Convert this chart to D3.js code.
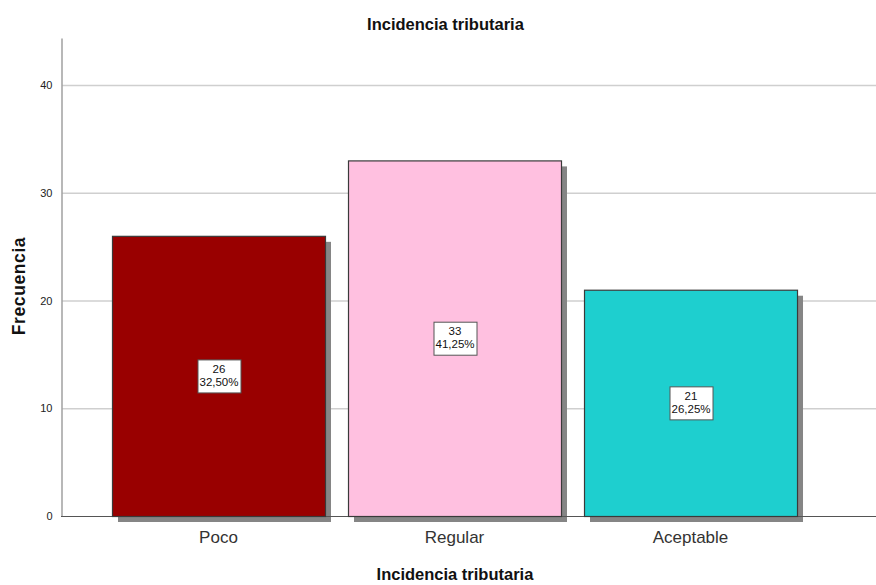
<!DOCTYPE html>
<html>
<head>
<meta charset="utf-8">
<script src="https://cdn.jsdelivr.net/npm/d3@7"></script>
<style>
  html, body { margin: 0; padding: 0; background: #fff; }
  svg { display: block; }
  text { font-family: "Liberation Sans", Arial, sans-serif; }
</style>
</head>
<body>
<svg id="chart" width="876" height="585"></svg>
<script>
// Frequency counts per category
const categories = ["Poco", "Regular", "Aceptable"];
const counts = [26, 33, 21];
const percents = ["32,50%", "41,25%", "26,25%"];
const barColors = ["#990000", "#FFC0E0", "#1ECFCF"];
const yTicks = [0, 10, 20, 30, 40];

const svg = d3.select("#chart");
const W = 876, H = 585;

const y = d3.scaleLinear().domain([0, 44.36]).range([516, 38]);
const x = d3.scaleBand()
  .domain(categories)
  .range([100.5, 808.5])
  .paddingInner(0.0975)
  .paddingOuter(0.0487);

// Gridlines
svg.append("g")
  .selectAll("line")
  .data(yTicks.filter(d => d > 0))
  .join("line")
  .attr("x1", 62).attr("x2", W)
  .attr("y1", d => y(d) + 0.5).attr("y2", d => y(d) + 0.5)
  .attr("stroke", "#cfcfcf").attr("stroke-width", 1.5);

// Y axis
const yAxis = d3.axisLeft(y).tickValues(yTicks).tickSize(0).tickPadding(9);
const gy = svg.append("g").attr("transform", "translate(61.5,0)").call(yAxis);
gy.select(".domain").attr("stroke", "#a0a0a0").attr("stroke-width", 1.5);
gy.selectAll("text").attr("font-size", 11).attr("fill", "#222");

const data = categories.map((c, i) => ({ c, v: counts[i], p: percents[i], col: barColors[i] }));

// Drop shadows
svg.append("g")
  .selectAll("rect")
  .data(data)
  .join("rect")
  .attr("x", d => x(d.c) + 6)
  .attr("y", d => y(d.v) + 6)
  .attr("width", x.bandwidth())
  .attr("height", d => y(0) - y(d.v))
  .attr("fill", "#858585");

// X axis baseline
svg.append("line")
  .attr("x1", 61).attr("x2", W)
  .attr("y1", 516.5).attr("y2", 516.5)
  .attr("stroke", "#555").attr("stroke-width", 1);

// Bars
svg.append("g")
  .selectAll("rect")
  .data(data)
  .join("rect")
  .attr("x", d => x(d.c) + 0.5)
  .attr("y", d => y(d.v) + 0.5)
  .attr("width", x.bandwidth())
  .attr("height", d => y(0) - y(d.v))
  .attr("fill", d => d.col)
  .attr("stroke", "#3a3a3a").attr("stroke-width", 1.2);

// Value labels
const lab = svg.append("g")
  .selectAll("g")
  .data(data)
  .join("g")
  .attr("transform", d => `translate(${x(d.c) + x.bandwidth() / 2 + 0.5},${y(d.v / 2)})`);
lab.append("rect")
  .attr("x", -21).attr("y", -16).attr("width", 43).attr("height", 33)
  .attr("fill", "#fff").attr("stroke", "#555").attr("stroke-width", 1);
lab.append("text")
  .attr("text-anchor", "middle").attr("y", -3)
  .attr("font-size", 11.5).attr("fill", "#111")
  .text(d => d.v);
lab.append("text")
  .attr("text-anchor", "middle").attr("y", 10)
  .attr("font-size", 11.5).attr("fill", "#111")
  .text(d => d.p);

// Category labels
svg.append("g")
  .selectAll("text")
  .data(categories)
  .join("text")
  .attr("x", d => x(d) + x.bandwidth() / 2)
  .attr("y", 543)
  .attr("text-anchor", "middle")
  .attr("font-size", 17).attr("fill", "#333")
  .text(d => d);

// Titles
svg.append("text")
  .attr("x", 445.5).attr("y", 29.5)
  .attr("text-anchor", "middle")
  .attr("font-size", 16.5).attr("font-weight", "bold").attr("fill", "#111")
  .text("Incidencia tributaria");

svg.append("text")
  .attr("x", 455).attr("y", 580)
  .attr("text-anchor", "middle")
  .attr("font-size", 16.5).attr("font-weight", "bold").attr("fill", "#111")
  .text("Incidencia tributaria");

svg.append("text")
  .attr("transform", "translate(25,286) rotate(-90)")
  .attr("text-anchor", "middle")
  .attr("font-size", 17.5).attr("font-weight", "bold").attr("fill", "#111")
  .attr("letter-spacing", 0.6)
  .text("Frecuencia");
</script>
</body>
</html>
